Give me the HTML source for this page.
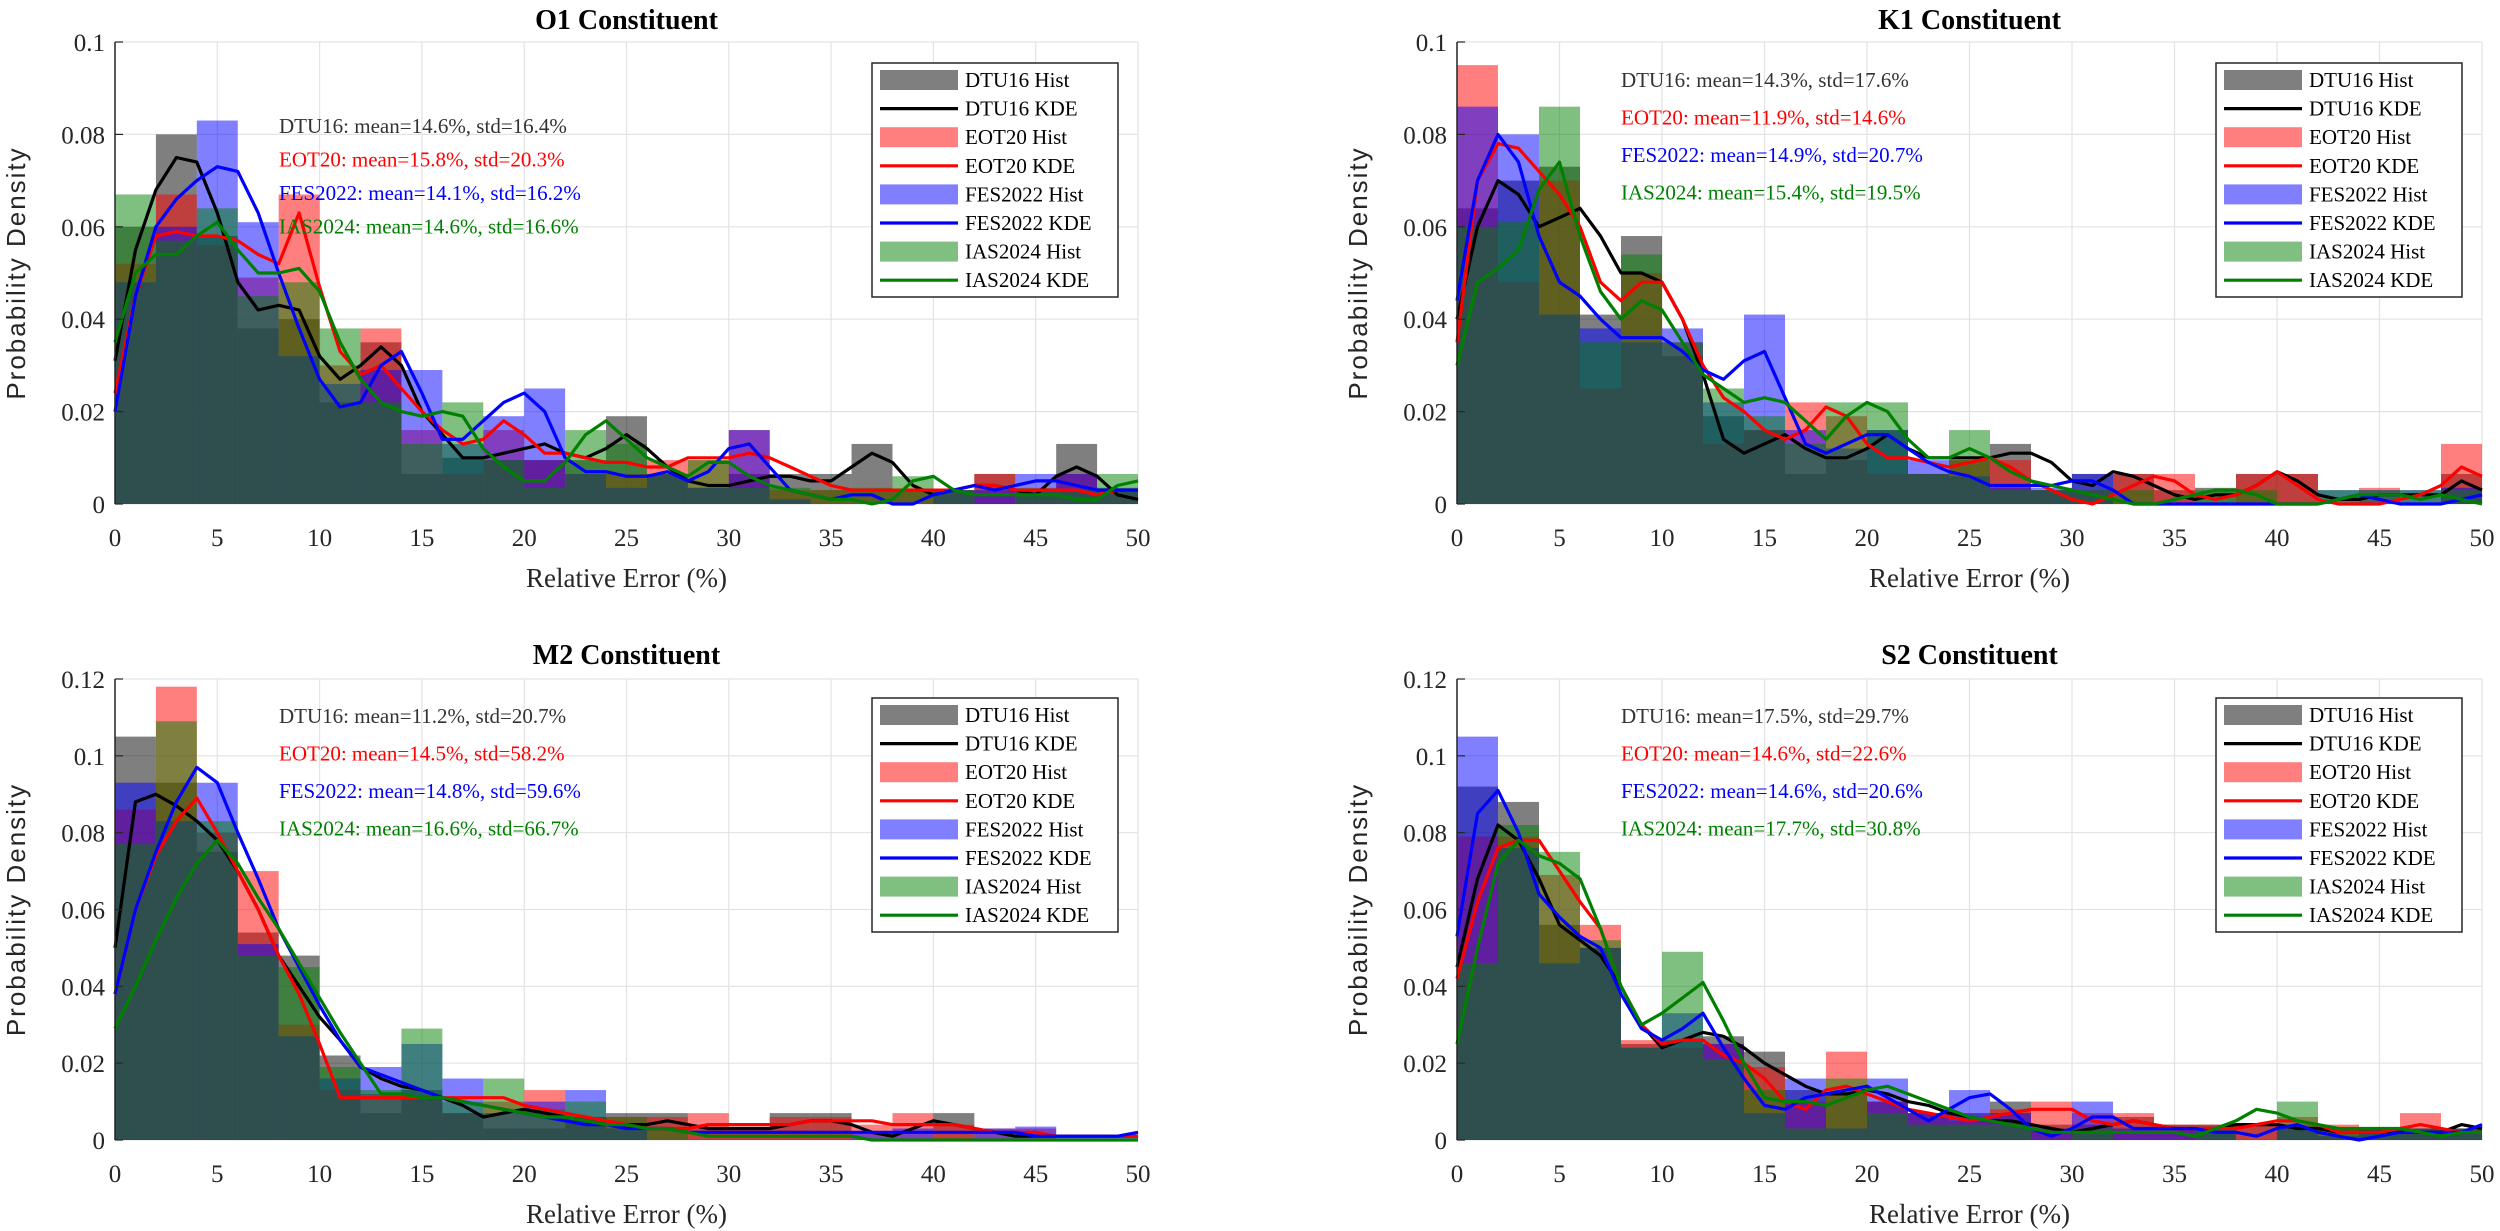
<!DOCTYPE html>
<html><head><meta charset="utf-8"><style>
html,body{margin:0;padding:0;background:#fff;}
svg{display:block;}
</style></head><body>
<svg id="fig" width="2500" height="1231" xmlns="http://www.w3.org/2000/svg"></svg>
<script>
const binEdgesStep = 2;
const xTicks = [0,5,10,15,20,25,30,35,40,45,50];
const yTicksTop = [0,0.02,0.04,0.06,0.08,0.1];
const yTickLabelsTop = ["0","0.02","0.04","0.06","0.08","0.1"];
const yTicksBot = [0,0.02,0.04,0.06,0.08,0.1,0.12];
const yTickLabelsBot = ["0","0.02","0.04","0.06","0.08","0.1","0.12"];
const seriesNames = ["DTU16","EOT20","FES2022","IAS2024"];

// O1
const o1HistDTU = [.06,.08,.058,.038,.04,.022,.035,.0065,.010,.0095,.0095,.0095,.019,.0065,.0035,.0065,.0065,.0065,.013,.003,.003,.0065,.003,.013,.0035];
const o1HistEOT = [.052,.067,.056,.049,.067,.030,.038,.016,.0065,.016,.0095,.0065,.0065,.0095,.0095,.016,.003,.003,.003,.003,.003,.0065,.003,.0065,.003];
const o1HistFES = [.048,.060,.083,.061,.032,.026,.029,.029,.013,.019,.025,.0065,.0035,.0065,.0035,.016,.001,0,0,0,.003,.003,.0065,.0065,.003];
const o1HistIAS = [.067,.057,.064,.045,.048,.038,.022,.013,.022,.0095,.0035,.016,.013,.0065,.0095,.0035,.0035,.003,.0035,.006,.003,0,.0035,.003,.0065];
const o1KdeDTU = [.031,.055,.068,.075,.074,.063,.048,.042,.043,.042,.032,.027,.030,.034,.030,.020,.015,.010,.010,.011,.012,.013,.011,.010,.012,.015,.012,.008,.005,.004,.004,.005,.006,.006,.005,.005,.008,.011,.009,.004,.002,.003,.004,.004,.003,.002,.006,.008,.006,.002,.001];
const o1KdeEOT = [.024,.045,.058,.059,.058,.058,.057,.054,.052,.063,.047,.033,.028,.030,.025,.020,.016,.013,.014,.018,.015,.011,.011,.010,.009,.009,.008,.008,.010,.010,.010,.011,.010,.008,.006,.004,.003,.003,.003,.003,.003,.003,.004,.004,.003,.003,.003,.003,.002,.003,.003];
const o1KdeFES = [.020,.045,.060,.066,.070,.073,.072,.063,.050,.038,.027,.021,.022,.030,.033,.024,.014,.014,.018,.022,.024,.020,.010,.007,.007,.006,.006,.007,.005,.007,.012,.013,.008,.003,.002,.001,.002,.002,0,0,.002,.003,.004,.003,.004,.005,.005,.004,.003,.003,.003];
const o1KdeIAS = [.035,.050,.054,.054,.058,.061,.055,.050,.050,.051,.046,.035,.027,.022,.020,.019,.020,.019,.012,.008,.005,.005,.009,.015,.018,.014,.010,.008,.006,.009,.009,.006,.004,.003,.002,.001,.001,0,.001,.005,.006,.003,.002,.002,.002,.002,.002,.001,.001,.004,.005];

// K1
const k1HistDTU = [.064,.070,.073,.041,.058,.032,.019,.016,.0065,.0095,.016,.0065,.0095,.013,.003,.0065,.0065,.003,.0035,.0065,.0065,0,0,0,.0065];
const k1HistEOT = [.095,.048,.070,.025,.050,.035,.013,.016,.022,.019,.0065,.0065,.0095,.0095,.003,.003,.0065,.0065,0,.0065,.0065,0,.0035,0,.013];
const k1HistFES = [.086,.080,.041,.038,.035,.038,.022,.041,.016,.012,.016,.0095,.006,.0035,.0035,.0065,0,0,0,0,0,.003,.003,.003,.0035];
const k1HistIAS = [.060,.061,.086,.035,.054,.035,.025,.019,.013,.022,.022,.0065,.016,.003,.003,.003,.003,0,.003,.003,0,.003,.003,.003,.003];
const k1KdeDTU = [.040,.060,.070,.067,.060,.062,.064,.058,.050,.050,.048,.040,.028,.014,.011,.013,.015,.012,.010,.010,.012,.015,.012,.010,.010,.010,.010,.011,.011,.009,.005,.004,.007,.006,.004,.002,.001,.002,.002,.004,.007,.005,.002,.001,.001,.002,.002,.002,.002,.005,.003];
const k1KdeEOT = [.035,.070,.078,.077,.072,.067,.060,.048,.044,.048,.048,.040,.030,.023,.020,.016,.014,.016,.021,.019,.013,.010,.010,.009,.008,.009,.010,.008,.005,.003,.001,0,.002,.004,.006,.005,.002,.001,.002,.004,.007,.004,.001,0,0,0,.001,.002,.004,.008,.006];
const k1KdeFES = [.044,.070,.080,.074,.058,.048,.045,.040,.036,.036,.036,.033,.029,.027,.031,.033,.023,.013,.011,.013,.015,.015,.012,.009,.007,.006,.004,.004,.004,.004,.005,.005,.003,0,0,0,0,0,0,0,0,0,0,.001,.002,.001,0,0,0,.001,.002];
const k1KdeIAS = [.030,.048,.051,.055,.068,.074,.058,.046,.040,.044,.042,.035,.028,.025,.022,.023,.022,.018,.014,.019,.022,.020,.014,.010,.010,.012,.010,.007,.005,.004,.003,.002,.001,0,0,.001,.002,.003,.003,.002,0,0,0,.001,.002,.002,.002,.001,.002,.001,0];

// M2
const m2HistDTU = [.105,.093,.075,.054,.048,.022,.007,.013,.007,.003,.003,.006,.007,.007,.003,.003,.007,.007,0,0,.007,0,0,0,0];
const m2HistEOT = [.086,.118,.080,.070,.030,.013,.012,.011,.007,.010,.013,.006,.006,.006,.007,.003,.006,.006,.004,.007,.004,.003,.003,0,0];
const m2HistFES = [.093,.083,.093,.051,.027,.016,.019,.025,.016,.007,.010,.013,.003,0,0,0,0,0,.002,.003,0,.003,.0035,.001,.001];
const m2HistIAS = [.077,.109,.083,.048,.045,.019,.013,.029,.010,.016,.008,.010,.006,.003,0,0,0,0,0,0,0,0,0,0,0];
const m2KdeDTU = [.050,.088,.090,.087,.083,.078,.070,.060,.048,.040,.032,.026,.019,.016,.014,.013,.011,.009,.006,.007,.008,.007,.006,.005,.004,.004,.004,.005,.004,.003,.003,.003,.003,.004,.005,.005,.004,.002,.001,.003,.005,.004,.003,.002,.001,.001,.001,.001,.001,.001,.001];
const m2KdeEOT = [.038,.060,.074,.083,.089,.080,.070,.060,.048,.038,.025,.011,.011,.011,.011,.011,.011,.011,.011,.011,.009,.008,.007,.006,.005,.004,.003,.003,.003,.004,.004,.004,.004,.004,.005,.005,.005,.005,.004,.004,.004,.004,.003,.002,.002,.002,.001,.001,.001,.001,.001];
const m2KdeFES = [.038,.060,.075,.088,.097,.093,.080,.068,.055,.045,.035,.026,.019,.017,.015,.013,.011,.010,.009,.008,.007,.006,.005,.004,.004,.003,.003,.003,.002,.002,.002,.002,.002,.002,.002,.002,.002,.002,.002,.002,.002,.002,.002,.002,.002,.001,.001,.001,.001,.001,.002];
const m2KdeIAS = [.029,.040,.052,.063,.072,.078,.072,.063,.055,.046,.037,.028,.020,.012,.012,.011,.011,.010,.009,.008,.007,.006,.006,.005,.004,.004,.003,.003,.002,.001,.001,.001,.001,.001,.001,.001,.001,0,0,0,0,0,0,0,0,0,0,0,0,0,0];

// S2
const s2HistDTU = [.092,.088,.056,.050,.025,.026,.027,.023,.013,.012,.010,.007,.007,.010,.004,.004,.006,.004,.004,.004,.004,.003,.003,.003,.003];
const s2HistEOT = [.079,.079,.069,.056,.026,.024,.025,.019,.010,.023,.010,.007,.005,.008,.010,.007,.007,.004,.004,.004,.006,.004,.003,.007,.003];
const s2HistFES = [.105,.076,.046,.050,.024,.033,.025,.007,.016,.003,.016,.007,.013,.007,.003,.010,.003,.003,.003,0,.003,.001,.003,.003,.003];
const s2HistIAS = [.046,.082,.075,.052,.024,.049,.021,.013,.003,.016,.007,.004,.004,.004,0,.003,0,0,.003,0,.010,.003,.003,.003,.003];
const s2KdeDTU = [.045,.068,.082,.078,.068,.056,.052,.048,.040,.030,.024,.026,.028,.027,.024,.020,.017,.014,.012,.012,.013,.012,.010,.009,.007,.006,.005,.005,.004,.003,.002,.003,.004,.005,.004,.003,.003,.003,.004,.004,.004,.003,.003,.002,.002,.002,.002,.002,.002,.004,.003];
const s2KdeEOT = [.042,.062,.076,.078,.078,.070,.062,.055,.040,.030,.025,.026,.026,.022,.020,.016,.010,.008,.013,.014,.012,.010,.008,.007,.006,.005,.006,.007,.008,.008,.008,.005,.004,.005,.004,.003,.003,.003,.003,.004,.005,.005,.004,.002,.002,.002,.003,.004,.003,.002,.002];
const s2KdeFES = [.053,.085,.091,.080,.064,.058,.053,.050,.038,.029,.026,.029,.033,.024,.016,.009,.008,.011,.012,.013,.014,.011,.008,.005,.008,.011,.012,.008,.003,.001,.003,.006,.006,.003,.003,.003,.003,.002,.002,.001,.003,.004,.002,.001,0,.001,.002,.002,.002,.002,.004];
const s2KdeIAS = [.025,.050,.072,.078,.074,.072,.068,.055,.040,.030,.033,.037,.041,.031,.020,.011,.010,.010,.009,.011,.013,.014,.012,.010,.008,.006,.005,.004,.003,.002,.002,.002,.002,.002,.002,.002,.001,.003,.005,.008,.007,.005,.004,.003,.003,.003,.003,.002,.001,.002,.002];

const o1Stats = ["DTU16: mean=14.6%, std=16.4%","EOT20: mean=15.8%, std=20.3%","FES2022: mean=14.1%, std=16.2%","IAS2024: mean=14.6%, std=16.6%"];
const k1Stats = ["DTU16: mean=14.3%, std=17.6%","EOT20: mean=11.9%, std=14.6%","FES2022: mean=14.9%, std=20.7%","IAS2024: mean=15.4%, std=19.5%"];
const m2Stats = ["DTU16: mean=11.2%, std=20.7%","EOT20: mean=14.5%, std=58.2%","FES2022: mean=14.8%, std=59.6%","IAS2024: mean=16.6%, std=66.7%"];
const s2Stats = ["DTU16: mean=17.5%, std=29.7%","EOT20: mean=14.6%, std=22.6%","FES2022: mean=14.6%, std=20.6%","IAS2024: mean=17.7%, std=30.8%"];

const NS = "http://www.w3.org/2000/svg";
const svg = document.getElementById('fig');
const histFill = ["#000000","#ff0000","#0000ff","#008000"];
const lineCol = ["#000000","#ff0000","#0000ff","#008000"];
const statCol = ["#333333","#ff0000","#0000ff","#008000"];

function mk(tag, attrs, parent){
  const e = document.createElementNS(NS, tag);
  for (const k in attrs) e.setAttribute(k, attrs[k]);
  (parent||svg).appendChild(e);
  return e;
}

function panel(cfg){
  const g = mk('g', {});
  
  
  const xs = v => cfg.x0 + (v/50)*(cfg.x1-cfg.x0);
  const ys = v => cfg.y0 - (v/cfg.ymax)*(cfg.y0-cfg.y1);
  xTicks.forEach(t => { mk('line',{x1:xs(t),x2:xs(t),y1:cfg.y1,y2:cfg.y0,stroke:'#e3e3e3','stroke-width':1.2},g); });
  cfg.yTicks.forEach(t => { mk('line',{x1:cfg.x0,x2:cfg.x1,y1:ys(t),y2:ys(t),stroke:'#e3e3e3','stroke-width':1.2},g); });
  cfg.hists.forEach((h, si) => {
    h.forEach((v, bi) => {
      if (v <= 0) return;
      const r = mk('rect',{x:xs(bi*binEdgesStep),y:ys(v),width:xs(binEdgesStep)-xs(0),height:ys(0)-ys(v),fill:histFill[si],'fill-opacity':0.5},g);
      
      
    });
  });
  cfg.kdes.forEach((k, si) => {
    const pts = k.map((v,i) => xs(i*50/(k.length-1)).toFixed(1)+','+ys(v).toFixed(1)).join(' ');
    const p = mk('polyline',{points:pts,fill:'none',stroke:lineCol[si],'stroke-width':3.2,'stroke-linejoin':'round'},g);
    
    
  });
  mk('line',{x1:cfg.x0,x2:cfg.x0,y1:cfg.y1,y2:cfg.y0,stroke:'#262626','stroke-width':1.5},g);
  xTicks.forEach(t => {
    const tx = mk('text',{x:xs(t),y:cfg.y0+42,'text-anchor':'middle','font-family':'Liberation Serif, serif','font-size':25,fill:'#262626'},g);
    tx.textContent = t;
    
    
  });
  cfg.yTicks.forEach((t, i) => {
    mk('line',{x1:cfg.x0,x2:cfg.x0+8,y1:ys(t),y2:ys(t),stroke:'#262626','stroke-width':1.2},g);
    const ty = mk('text',{x:cfg.x0-10,y:ys(t)+9,'text-anchor':'end','font-family':'Liberation Serif, serif','font-size':25,fill:'#262626'},g);
    ty.textContent = cfg.yLabels[i];
    
    
  });
  const xl = mk('text',{x:(cfg.x0+cfg.x1)/2,y:cfg.y0+83,'text-anchor':'middle','font-family':'Liberation Serif, serif','font-size':27,fill:'#262626'},g);
  xl.textContent = 'Relative Error (%)';
  
  
  const yc = (cfg.y0+cfg.y1)/2;
  const yl = mk('text',{x:cfg.x0-90,y:yc,'text-anchor':'middle','font-family':'Liberation Sans, sans-serif','font-size':26,'letter-spacing':2,fill:'#262626',transform:'rotate(-90 '+(cfg.x0-90)+' '+yc+')'},g);
  yl.textContent = 'Probability Density';
  
  
  const ti = mk('text',{x:(cfg.x0+cfg.x1)/2,y:cfg.titleY,'text-anchor':'middle','font-family':'Liberation Serif, serif','font-size':28,'font-weight':'bold',fill:'#000'},g);
  ti.textContent = cfg.title;
  
  
  cfg.stats.forEach((s, i) => {
    const st = mk('text',{x:cfg.statX,y:cfg.statY+i*cfg.statDy,'font-family':'Liberation Serif, serif','font-size':21,fill:statCol[i]},g);
    st.textContent = s;
    
    
  });
  const lg = mk('g',{},g);
  
  
  const lx = cfg.x1 - 266, ly = cfg.legY;
  mk('rect',{x:lx,y:ly,width:246,height:234,fill:'#fff',stroke:'#262626','stroke-width':1.5},lg);
  for (let i=0;i<8;i++){
    const si = Math.floor(i/2), isHist = i%2===0;
    const cy = ly + 17 + i*28.6;
    if (isHist) mk('rect',{x:lx+8,y:cy-10,width:78,height:20,fill:histFill[si],'fill-opacity':0.5},lg);
    else mk('line',{x1:lx+8,x2:lx+86,y1:cy,y2:cy,stroke:lineCol[si],'stroke-width':3.2},lg);
    const tt = mk('text',{x:lx+93,y:cy+7,'font-family':'Liberation Serif, serif','font-size':21,fill:'#000'},lg);
    tt.textContent = seriesNames[si] + (isHist ? ' Hist' : ' KDE');
    
    
  }
}

panel({key:'o1',title:'O1 Constituent',x0:115,x1:1138,y0:504,y1:42,ymax:0.1,yTicks:yTicksTop,yLabels:yTickLabelsTop,titleY:29,
  hists:[o1HistDTU,o1HistEOT,o1HistFES,o1HistIAS],kdes:[o1KdeDTU,o1KdeEOT,o1KdeFES,o1KdeIAS],stats:o1Stats,statX:279,statY:133,statDy:33.5,legY:63});
panel({key:'k1',title:'K1 Constituent',x0:1457,x1:2482,y0:504,y1:42,ymax:0.1,yTicks:yTicksTop,yLabels:yTickLabelsTop,titleY:29,
  hists:[k1HistDTU,k1HistEOT,k1HistFES,k1HistIAS],kdes:[k1KdeDTU,k1KdeEOT,k1KdeFES,k1KdeIAS],stats:k1Stats,statX:1621,statY:87,statDy:37.5,legY:63});
panel({key:'m2',title:'M2 Constituent',x0:115,x1:1138,y0:1140,y1:679,ymax:0.12,yTicks:yTicksBot,yLabels:yTickLabelsBot,titleY:664,
  hists:[m2HistDTU,m2HistEOT,m2HistFES,m2HistIAS],kdes:[m2KdeDTU,m2KdeEOT,m2KdeFES,m2KdeIAS],stats:m2Stats,statX:279,statY:723,statDy:37.5,legY:698});
panel({key:'s2',title:'S2 Constituent',x0:1457,x1:2482,y0:1140,y1:679,ymax:0.12,yTicks:yTicksBot,yLabels:yTickLabelsBot,titleY:664,
  hists:[s2HistDTU,s2HistEOT,s2HistFES,s2HistIAS],kdes:[s2KdeDTU,s2KdeEOT,s2KdeFES,s2KdeIAS],stats:s2Stats,statX:1621,statY:723,statDy:37.5,legY:698});
</script>
</body></html>
